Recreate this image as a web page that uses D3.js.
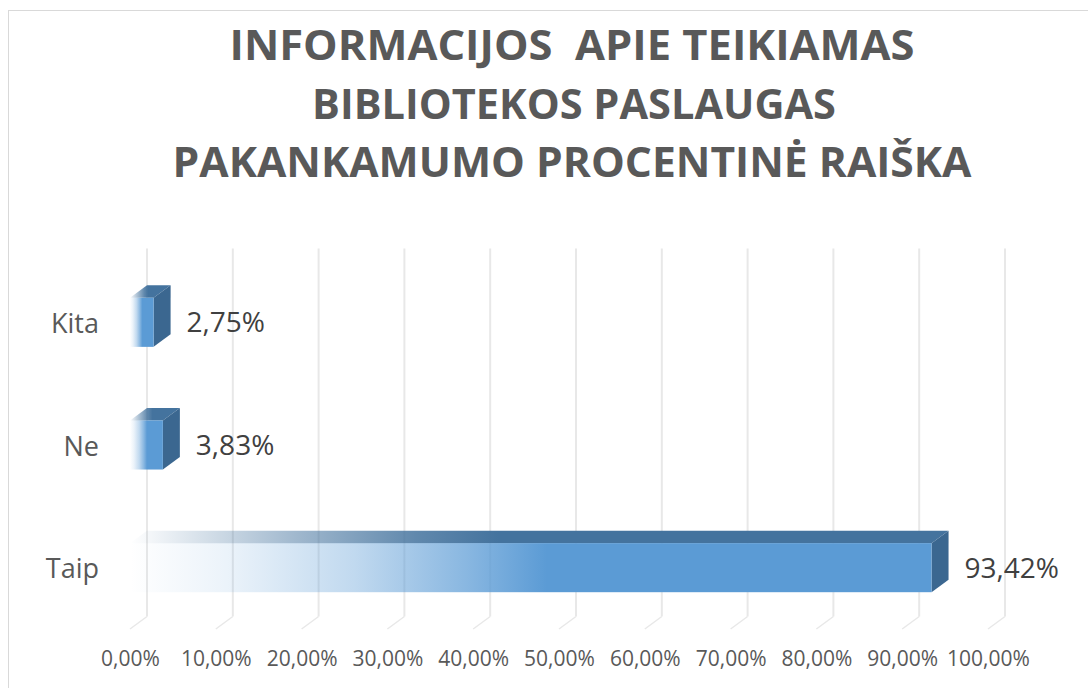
<!DOCTYPE html>
<html>
<head>
<meta charset="utf-8">
<script src="https://cdn.jsdelivr.net/npm/d3@7"></script>
<style>
  body { margin: 0; background: #fff; }
  text { font-family: "Open Sans", sans-serif; }
</style>
</head>
<body>
<script>
// chart data
var categories = ['Taip', 'Ne', 'Kita'];
var values = [93.42, 3.83, 2.75];
var tickValues = [0, 10, 20, 30, 40, 50, 60, 70, 80, 90, 100];
var titleLines = ['INFORMACIJOS  APIE TEIKIAMAS', 'BIBLIOTEKOS PASLAUGAS', 'PAKANKAMUMO PROCENTINĖ RAIŠKA'];

var width = 1088, height = 688;
var depthX = 17, depthY = 12.5;   // 3d offset of the back wall

var svg = d3.select('body').append('svg')
  .attr('width', width)
  .attr('height', height);

svg.append('rect')
  .attr('x', 8.5).attr('y', 10.5)
  .attr('width', width).attr('height', height)
  .style('fill', '#fff')
  .style('stroke', '#d9d9d9');

// title
var titleLayout = [
  { cx: 572, base: 60, len: 685 },
  { cx: 574, base: 119, len: 524 },
  { cx: 572, base: 177, len: 799 }
];
svg.selectAll('text.title')
  .data(titleLines)
  .enter()
  .append('text')
  .attr('class', 'title')
  .attr('x', function(d, i) { return titleLayout[i].cx; })
  .attr('y', function(d, i) { return titleLayout[i].base; })
  .attr('text-anchor', 'middle')
  .attr('textLength', function(d, i) { return titleLayout[i].len; })
  .attr('lengthAdjust', 'spacingAndGlyphs')
  .style('white-space', 'pre')
  .style('font-size', '42px')
  .style('font-weight', 'bold')
  .style('fill', '#595959')
  .text(function(d) { return d; });

// scales (front plane)
var x = d3.scaleLinear().domain([0, 100]).range([130, 988]);
var y = d3.scaleBand()
  .domain(categories.slice().reverse())
  .range([261, 629])
  .paddingInner(0.6)
  .paddingOuter(0.3);
var floorY = 629;

var fmt = d3.formatLocale({ decimal: ',', thousands: ' ', grouping: [3], currency: ['', '€'] }).format('.2f');

// gradients
var defs = svg.append('defs');
var gFront = defs.append('linearGradient').attr('id', 'gradFront');
[[0, 0.0], [0.12, 0.12], [0.28, 0.38], [0.42, 0.72], [0.52, 1], [1, 1]].forEach(function(s) {
  gFront.append('stop').attr('offset', s[0]).attr('stop-color', '#5b9bd5').attr('stop-opacity', s[1]);
});
var gTop = defs.append('linearGradient').attr('id', 'gradTop');
[[0, 0.0], [0.06, 0.15], [0.2, 0.5], [0.35, 0.85], [0.45, 1], [1, 1]].forEach(function(s) {
  gTop.append('stop').attr('offset', s[0]).attr('stop-color', '#44739e').attr('stop-opacity', s[1]);
});

// gridlines on back wall + floor
var grid = svg.append('g');
grid.selectAll('line.v')
  .data(tickValues)
  .enter()
  .append('line')
  .attr('class', 'v')
  .attr('x1', function(d) { return x(d) + depthX; })
  .attr('x2', function(d) { return x(d) + depthX; })
  .attr('y1', 261 - depthY)
  .attr('y2', floorY - depthY)
  .style('stroke', '#e8e8e8')
  .style('stroke-width', 2);
grid.selectAll('line.f')
  .data(tickValues)
  .enter()
  .append('line')
  .attr('class', 'f')
  .attr('x1', function(d) { return x(d) + depthX; })
  .attr('x2', function(d) { return x(d); })
  .attr('y1', floorY - depthY)
  .attr('y2', floorY)
  .style('stroke', '#e8e8e8')
  .style('stroke-width', 1.5);

// bars
var data = categories.map(function(c, i) { return { cat: c, val: values[i] }; });
var bars = svg.selectAll('g.bar')
  .data(data)
  .enter()
  .append('g')
  .attr('class', 'bar');

bars.append('polygon')
  .attr('points', function(d) {
    var x0 = x(0), x1 = x(d.val), t = y(d.cat);
    return [[x0, t], [x1, t], [x1 + depthX, t - depthY], [x0 + depthX, t - depthY]].join(' ');
  })
  .style('fill', 'url(#gradTop)');

bars.append('polygon')
  .attr('points', function(d) {
    var x1 = x(d.val), t = y(d.cat), b = y(d.cat) + y.bandwidth();
    return [[x1, t], [x1 + depthX, t - depthY], [x1 + depthX, b - depthY], [x1, b]].join(' ');
  })
  .style('fill', '#3b6790');

bars.append('rect')
  .attr('x', x(0))
  .attr('y', function(d) { return y(d.cat); })
  .attr('width', function(d) { return x(d.val) - x(0); })
  .attr('height', y.bandwidth())
  .style('fill', 'url(#gradFront)');

// value labels
bars.append('text')
  .attr('x', function(d) { return x(d.val) + 33; })
  .attr('y', function(d) { return y(d.cat) + y.bandwidth() / 2; })
  .attr('dy', '0.36em')
  .style('font-size', '28px')
  .style('fill', '#404040')
  .text(function(d) { return fmt(d.val) + '%'; });

// category labels
svg.selectAll('text.cat')
  .data(categories)
  .enter()
  .append('text')
  .attr('class', 'cat')
  .attr('x', 99)
  .attr('y', function(d) { return y(d) + y.bandwidth() / 2; })
  .attr('dy', '0.39em')
  .attr('text-anchor', 'end')
  .style('font-size', '27px')
  .style('fill', '#595959')
  .text(function(d) { return d; });

// x axis labels
var xAxis = d3.axisBottom(x)
  .tickValues(tickValues)
  .tickSize(0)
  .tickPadding(0)
  .tickFormat(function(d) { return fmt(d) + '%'; });
var ax = svg.append('g')
  .attr('transform', 'translate(0,' + 651 + ')')
  .call(xAxis);
ax.select('.domain').remove();
ax.selectAll('text')
  .style('font-family', '"Open Sans", sans-serif')
  .style('font-size', '21px')
  .style('fill', '#595959');
</script>
</body>
</html>
